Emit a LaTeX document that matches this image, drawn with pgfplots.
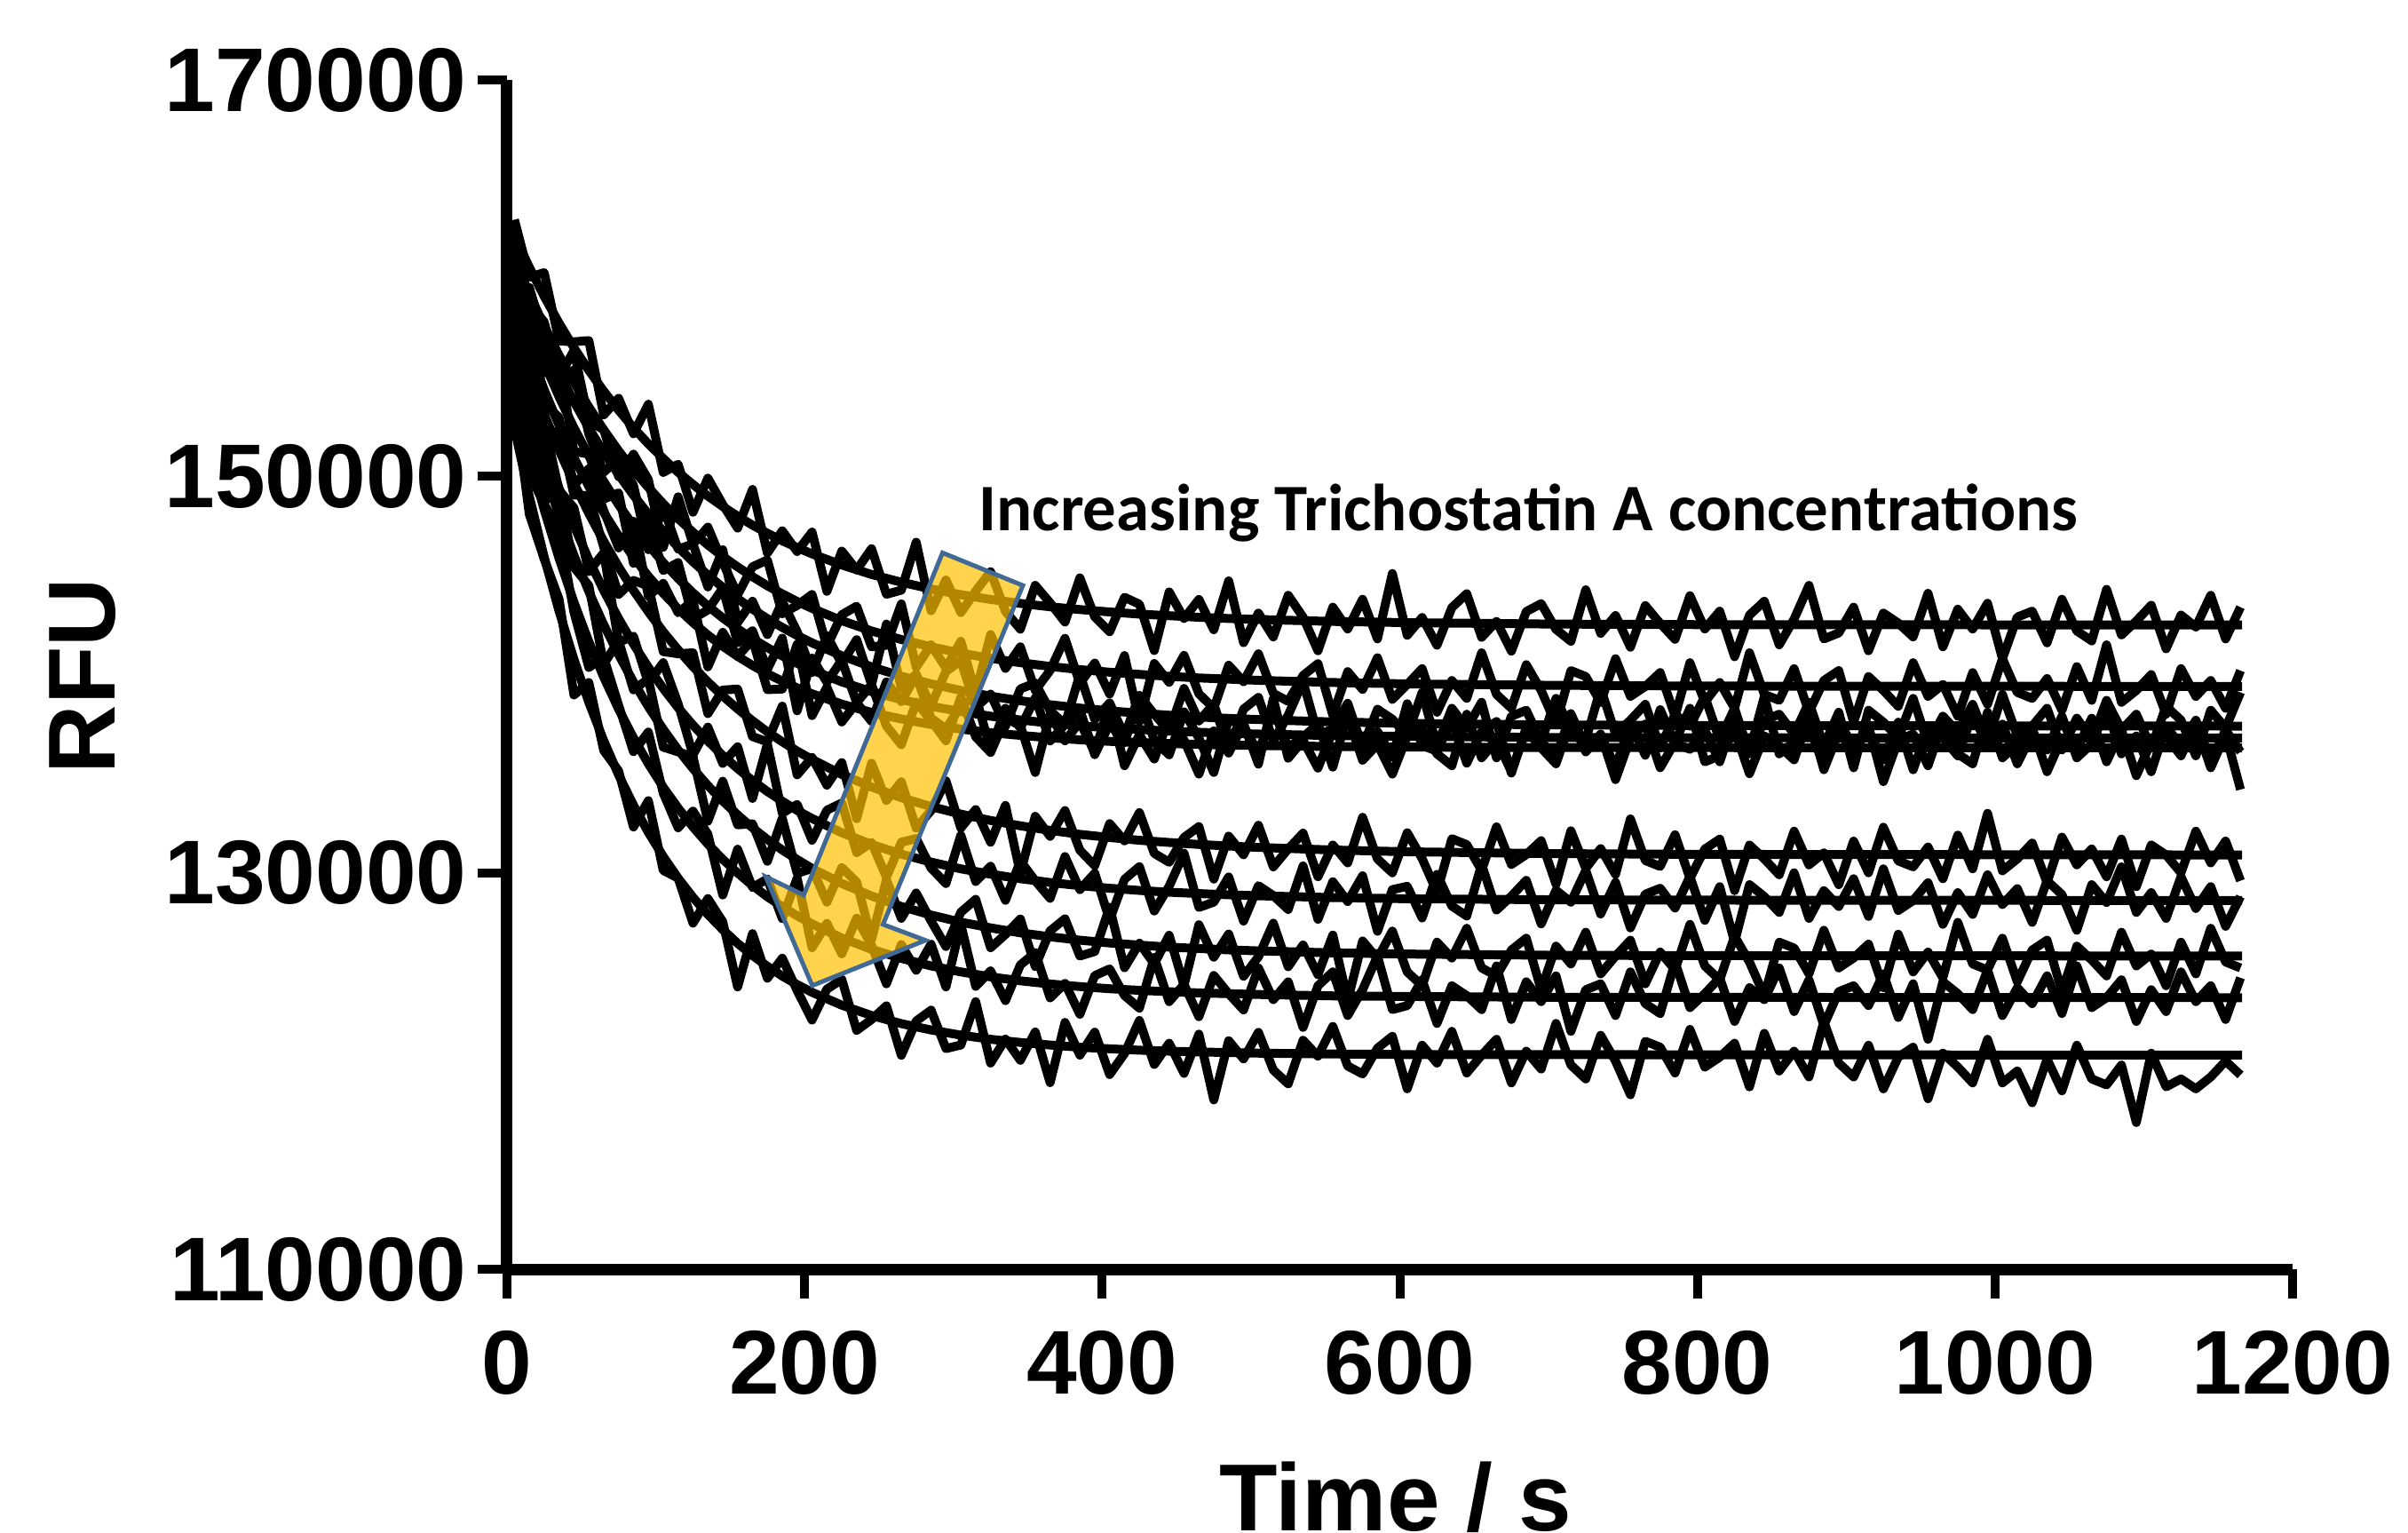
\documentclass[border=0pt]{standalone}
\usepackage{fontspec}
\setmainfont{Liberation Sans}
\newfontfamily\carlito{Carlito}
\usepackage{pgfplots}
\pgfplotsset{compat=1.18}
\definecolor{arrowfill}{RGB}{255,192,0}
\definecolor{arrowedge}{RGB}{65,105,150}
\begin{document}
\begin{tikzpicture}
\begin{axis}[
  at={(57.1mm,29.6mm)}, anchor=south west,
  width=201.1mm, height=133.9mm, scale only axis,
  xmin=0, xmax=1200, ymin=110000, ymax=170000,
  axis x line*=bottom, axis y line*=left,
  xtick={0,200,...,1200}, ytick={110000,130000,150000,170000},
  xticklabels={0,200,400,600,800,1000,1200},
  yticklabels={110000,130000,150000,170000},
  tick align=outside, major tick length=3.3mm,
  tick style={black, line width=1mm},
  axis line style={line width=1.3mm, -},
  tick label style={font=\fontsize{29}{30}\selectfont\bfseries},
  xticklabel style={yshift=-2.4mm},
  scaled ticks=false,
  clip=false,
  every axis plot post/.append style={black, solid, line width=1mm, line join=round, mark=none},
]
% fitted curves
\addplot coordinates {(0,163000)(5,162150)(15,160550)(25,159080)(35,157730)(45,156490)(55,155350)(65,154300)(75,153340)(85,152450)(95,151640)(105,150900)(115,150210)(125,149590)(135,149010)(145,148480)(155,147990)(165,147540)(175,147130)(185,146750)(195,146410)(205,146090)(225,145530)(245,145050)(265,144660)(285,144320)(305,144030)(325,143790)(345,143590)(365,143420)(385,143280)(405,143160)(425,143050)(445,142970)(465,142890)(485,142830)(505,142780)(555,142680)(605,142620)(700,142550)(800,142520)(1166,142500)};
\addplot coordinates {(0,161900)(5,160960)(15,159210)(25,157590)(35,156110)(45,154750)(55,153500)(65,152350)(75,151290)(85,150320)(95,149440)(105,148620)(115,147870)(125,147180)(135,146540)(145,145960)(155,145430)(165,144940)(175,144480)(185,144070)(195,143690)(205,143340)(225,142720)(245,142200)(265,141770)(285,141400)(305,141080)(325,140820)(345,140600)(365,140410)(385,140250)(405,140120)(425,140010)(445,139910)(465,139830)(485,139770)(505,139710)(555,139600)(605,139530)(700,139460)(800,139420)(1166,139400)};
\addplot coordinates {(0,161400)(5,160400)(15,158530)(25,156810)(35,155230)(45,153770)(55,152440)(65,151210)(75,150090)(85,149050)(95,148100)(105,147230)(115,146430)(125,145690)(135,145020)(145,144400)(155,143830)(165,143300)(175,142820)(185,142380)(195,141970)(205,141600)(225,140950)(245,140390)(265,139920)(285,139530)(305,139200)(325,138910)(345,138680)(365,138480)(385,138310)(405,138170)(425,138050)(445,137950)(465,137860)(485,137790)(505,137730)(555,137610)(605,137540)(700,137460)(800,137430)(1166,137400)};
\addplot coordinates {(0,160800)(5,159690)(15,157610)(25,155730)(35,154010)(45,152450)(55,151030)(65,149750)(75,148570)(85,147510)(95,146540)(105,145650)(115,144850)(125,144120)(135,143460)(145,142860)(155,142310)(165,141810)(175,141360)(185,140940)(195,140570)(205,140230)(225,139630)(245,139140)(265,138740)(285,138400)(305,138130)(325,137900)(345,137710)(365,137550)(385,137420)(405,137310)(425,137230)(445,137150)(465,137090)(485,137040)(505,137000)(555,136920)(605,136880)(700,136830)(800,136810)(1166,136800)};
\addplot coordinates {(0,159800)(5,158600)(15,156380)(25,154370)(35,152570)(45,150950)(55,149490)(65,148180)(75,146990)(85,145930)(95,144960)(105,144100)(115,143320)(125,142620)(135,141990)(145,141430)(155,140920)(165,140460)(175,140040)(185,139670)(195,139330)(205,139030)(225,138510)(245,138090)(265,137760)(285,137480)(305,137250)(325,137070)(345,136930)(365,136810)(385,136710)(405,136630)(425,136570)(445,136520)(465,136480)(485,136440)(505,136420)(555,136370)(605,136340)(700,136320)(1166,136300)};
\addplot coordinates {(0,158400)(5,157260)(15,155110)(25,153140)(35,151320)(45,149660)(55,148130)(65,146730)(75,145440)(85,144250)(95,143170)(105,142160)(115,141250)(125,140400)(135,139630)(145,138920)(155,138270)(165,137670)(175,137110)(185,136610)(195,136140)(205,135720)(225,134960)(245,134330)(265,133790)(285,133340)(305,132960)(325,132640)(345,132370)(365,132140)(385,131940)(405,131780)(425,131640)(445,131530)(465,131430)(485,131350)(505,131280)(555,131150)(605,131060)(700,130970)(800,130930)(1166,130900)};
\addplot coordinates {(0,157600)(5,156250)(15,153750)(25,151470)(35,149400)(45,147510)(55,145800)(65,144240)(75,142830)(85,141540)(95,140370)(105,139300)(115,138330)(125,137450)(135,136650)(145,135920)(155,135260)(165,134650)(175,134100)(185,133610)(195,133150)(205,132740)(225,132020)(245,131430)(265,130940)(285,130540)(305,130200)(325,129930)(345,129700)(365,129510)(385,129350)(405,129220)(425,129110)(445,129020)(465,128950)(485,128890)(505,128840)(555,128750)(605,128690)(700,128640)(800,128620)(1166,128600)};
\addplot coordinates {(0,156800)(5,155360)(15,152680)(25,150250)(35,148030)(45,146020)(55,144190)(65,142520)(75,141010)(85,139630)(95,138380)(105,137240)(115,136200)(125,135260)(135,134400)(145,133620)(155,132920)(165,132270)(175,131680)(185,131150)(195,130670)(205,130220)(225,129460)(245,128830)(265,128300)(285,127870)(305,127510)(325,127220)(345,126970)(365,126770)(385,126600)(405,126460)(425,126350)(445,126250)(465,126180)(485,126110)(505,126060)(555,125960)(605,125900)(700,125840)(800,125820)(1166,125800)};
\addplot coordinates {(0,155700)(5,154070)(15,151040)(25,148310)(35,145860)(45,143650)(55,141660)(65,139870)(75,138260)(85,136810)(95,135500)(105,134320)(115,133270)(125,132310)(135,131450)(145,130680)(155,129990)(165,129360)(175,128790)(185,128290)(195,127830)(205,127420)(225,126710)(245,126140)(265,125680)(285,125300)(305,125000)(325,124750)(345,124550)(365,124390)(385,124260)(405,124150)(425,124070)(445,124000)(465,123940)(485,123900)(505,123860)(555,123790)(605,123760)(700,123720)(1166,123700)};
\addplot coordinates {(0,154300)(5,152430)(15,148990)(25,145930)(35,143200)(45,140770)(55,138600)(65,136670)(75,134940)(85,133410)(95,132040)(105,130820)(115,129730)(125,128760)(135,127900)(145,127130)(155,126440)(165,125830)(175,125280)(185,124790)(195,124360)(205,123970)(225,123320)(245,122800)(265,122390)(285,122070)(305,121810)(325,121600)(345,121440)(365,121310)(385,121200)(405,121120)(425,121050)(445,121000)(465,120960)(485,120930)(505,120900)(555,120860)(605,120830)(1166,120800)};
% measured traces
\addplot coordinates {(5,162950)(15,160050)(25,160280)(35,156830)(45,156790)(55,156850)(65,153100)(75,153940)(85,152150)(95,153640)(105,150200)(115,150610)(125,148190)(135,149910)(145,148580)(155,147390)(165,149340)(175,146130)(185,147250)(195,146210)(205,147190)(215,144200)(225,146230)(235,145280)(245,146350)(255,144050)(265,144260)(275,146680)(285,143220)(295,144770)(305,143130)(315,144210)(325,145190)(335,143190)(345,142290)(355,144500)(365,143620)(375,142650)(385,144880)(395,142910)(405,142160)(415,143900)(425,143550)(435,141210)(445,144170)(455,142830)(465,143790)(475,142260)(485,144730)(495,141610)(505,143100)(515,141900)(525,144000)(535,142900)(545,141200)(555,143400)(565,142300)(575,143800)(585,141800)(595,145100)(605,141980)(615,142880)(625,141480)(635,143380)(645,144080)(655,141880)(665,142680)(675,141180)(685,143180)(695,143580)(705,142280)(715,141680)(725,144280)(735,142080)(745,142980)(755,141380)(765,143480)(775,142580)(785,141780)(795,143980)(805,142300)(815,143200)(825,140900)(835,143000)(845,143700)(855,141500)(865,142800)(875,144500)(885,141800)(895,142100)(905,143400)(915,141200)(925,143100)(935,142600)(945,141900)(955,144100)(965,141400)(975,143300)(985,142300)(995,143600)(1005,140800)(1015,142900)(1025,143200)(1035,141600)(1045,143800)(1055,142200)(1065,141700)(1075,144300)(1085,142000)(1095,142700)(1105,143500)(1115,141300)(1125,143000)(1135,142400)(1145,144000)(1155,141800)(1165,143400)};
\addplot coordinates {(5,161960)(15,158710)(25,157790)(35,155010)(45,156350)(55,152800)(65,152350)(75,149990)(85,151120)(95,149840)(105,146420)(115,148970)(125,146580)(135,147440)(145,145660)(155,144030)(165,145440)(175,145780)(185,143070)(195,143490)(205,144040)(215,141420)(225,143020)(235,143450)(245,141400)(255,141480)(265,143570)(275,140370)(285,141500)(295,140330)(305,141680)(315,139050)(325,142020)(335,140310)(345,141400)(355,139200)(365,140210)(375,141830)(385,139550)(395,140580)(405,139020)(415,140960)(425,137610)(435,140560)(445,139610)(455,140970)(465,139030)(475,138300)(485,140470)(495,139640)(505,141050)(515,139050)(525,138650)(535,139950)(545,140550)(555,137950)(565,140150)(575,139250)(585,140850)(595,138750)(605,139500)(615,140300)(625,138100)(635,139700)(645,138800)(655,141100)(665,139000)(675,138300)(685,140500)(695,139200)(705,137500)(715,140200)(725,139900)(735,138600)(745,140800)(755,138900)(765,139400)(775,140100)(785,137900)(795,140600)(805,138600)(815,139600)(825,138300)(835,141100)(845,139000)(855,138700)(865,140300)(875,138100)(885,139700)(895,140200)(905,137600)(915,139900)(925,139200)(935,138400)(945,140600)(955,138900)(965,139500)(975,137900)(985,140100)(995,138500)(1005,140800)(1015,139100)(1025,138800)(1035,139800)(1045,138200)(1055,140400)(1065,138700)(1075,141500)(1085,138600)(1095,139200)(1105,140000)(1115,138000)(1125,140300)(1135,138900)(1145,139700)(1155,138300)(1165,140200)};
\addplot coordinates {(5,159100)(15,159530)(25,157010)(35,154530)(45,155370)(55,152140)(65,150210)(75,150890)(85,149550)(95,146300)(105,148430)(115,146330)(125,146590)(135,144420)(145,146300)(155,142630)(165,143700)(175,142020)(185,143680)(195,142170)(205,140100)(215,141960)(225,140550)(235,141760)(245,139490)(255,142550)(265,139320)(275,140020)(285,138430)(295,140160)(305,140700)(315,138350)(325,139010)(335,137390)(345,139280)(355,139570)(365,138180)(375,137490)(385,140010)(395,137740)(405,138570)(415,136910)(425,138950)(435,138000)(445,137150)(455,139300)(465,137660)(475,138520)(485,136190)(495,138260)(505,138850)(515,136650)(525,137950)(535,139650)(545,136950)(555,137250)(565,138550)(575,136350)(585,138250)(595,137750)(605,136900)(615,139100)(625,136400)(635,138300)(645,137300)(655,138600)(665,135800)(675,137900)(685,138200)(695,136600)(705,138800)(715,137200)(725,136700)(735,139300)(745,137000)(755,137700)(765,138500)(775,136300)(785,138000)(795,137400)(805,138900)(815,136700)(825,138300)(835,136000)(845,137700)(855,138000)(865,137000)(875,138600)(885,136400)(895,138100)(905,135300)(915,138200)(925,137600)(935,136800)(945,138800)(955,136500)(965,137900)(975,137100)(985,138500)(995,136600)(1005,139000)(1015,136900)(1025,137400)(1035,138300)(1045,136200)(1055,137800)(1065,136700)(1075,138700)(1085,137200)(1095,138000)(1105,136300)(1115,138400)(1125,137700)(1135,135900)(1145,138200)(1155,137300)(1165,139100)};
\addplot coordinates {(5,160690)(15,156810)(25,155230)(35,155810)(45,151250)(55,151130)(65,148850)(75,149170)(85,145610)(95,147740)(105,145250)(115,145650)(125,142820)(135,143260)(145,144360)(155,141610)(165,142210)(175,140260)(185,141840)(195,138170)(205,140830)(215,139620)(225,140730)(235,138580)(245,137640)(255,139630)(265,138640)(275,139960)(285,137800)(295,137260)(305,138430)(315,138900)(325,136200)(335,138300)(345,137310)(355,138830)(365,136650)(375,137480)(385,138220)(395,135960)(405,137510)(415,136570)(425,138830)(435,136690)(445,135950)(455,138120)(465,136790)(475,135060)(485,137740)(495,137420)(505,136030)(515,138230)(525,136330)(535,136830)(545,137530)(555,135330)(565,138030)(575,136130)(585,137130)(595,135830)(605,138530)(615,136430)(625,136130)(635,137730)(645,135530)(655,137130)(665,137630)(675,135030)(685,137330)(695,136630)(705,135830)(715,138030)(725,136330)(735,136930)(745,135330)(755,137530)(765,135930)(775,138230)(785,136530)(795,136230)(805,137200)(815,135600)(825,137800)(835,136100)(845,138900)(855,136000)(865,136600)(875,137400)(885,135400)(895,137700)(905,136300)(915,137100)(925,135700)(935,137600)(945,135200)(955,137300)(965,136800)(975,135900)(985,138000)(995,136400)(1005,137500)(1015,135500)(1025,137000)(1035,136200)(1045,137900)(1055,135800)(1065,136500)(1075,138300)(1085,136000)(1095,136900)(1105,135100)(1115,137400)(1125,136400)(1135,137700)(1145,135600)(1155,137200)(1165,136100)};
\addplot coordinates {(5,158300)(15,158380)(25,153670)(35,152970)(45,149550)(55,150390)(65,148280)(75,146390)(85,147730)(95,143960)(105,144600)(115,143120)(125,143720)(135,140390)(145,142130)(155,140920)(165,141760)(175,139240)(185,139270)(195,141530)(205,137930)(215,139360)(225,137610)(235,138590)(245,139490)(255,137410)(265,136460)(275,138610)(285,137680)(295,136660)(305,138850)(315,136860)(325,136070)(335,137800)(345,137430)(355,135060)(365,138010)(375,136660)(385,137610)(395,136070)(405,138530)(415,135400)(425,136970)(435,135740)(445,137820)(455,136700)(465,134980)(475,137160)(485,136040)(495,137530)(505,135480)(515,138780)(525,135780)(535,136680)(545,135280)(555,137180)(565,137880)(575,135680)(585,136480)(595,134980)(605,136900)(615,137300)(625,136000)(635,135400)(645,138000)(655,135800)(665,136700)(675,135100)(685,137200)(695,136300)(705,135500)(715,137700)(725,136100)(735,137000)(745,134700)(755,136800)(765,137500)(775,135300)(785,136600)(795,138300)(805,135600)(815,135900)(825,137200)(835,135000)(845,136900)(855,136400)(865,135700)(875,137900)(885,135200)(895,137100)(905,136100)(915,137400)(925,134600)(935,136700)(945,137000)(955,135400)(965,137600)(975,136000)(985,135500)(995,138100)(1005,135800)(1015,136500)(1025,137300)(1035,135100)(1045,136800)(1055,136200)(1065,137800)(1075,135600)(1085,137200)(1095,134900)(1105,136600)(1115,136900)(1125,135900)(1135,137500)(1145,135300)(1155,137000)(1165,134200)};
\addplot coordinates {(5,158060)(15,155510)(25,150940)(35,152420)(45,149060)(55,149030)(65,146430)(75,144040)(85,144750)(95,144470)(105,141160)(115,141050)(125,141100)(135,138030)(145,139220)(155,139270)(165,136870)(175,136610)(185,138410)(195,134940)(205,135820)(215,134420)(225,135560)(235,132730)(245,135530)(255,133650)(265,134590)(275,132260)(285,133140)(295,134640)(305,132260)(315,133190)(325,131540)(335,133400)(345,129970)(355,132850)(365,131840)(375,133140)(385,131140)(395,130360)(405,132480)(415,131610)(425,133040)(435,130980)(445,130530)(455,131780)(465,132330)(475,129680)(485,131850)(495,130910)(505,132400)(515,130300)(525,131200)(535,132000)(545,129800)(555,131400)(565,130500)(575,132800)(585,130700)(595,130000)(605,132020)(615,130720)(625,129020)(635,131720)(645,131420)(655,130120)(665,132320)(675,130420)(685,130920)(695,131620)(705,129420)(715,132120)(725,130220)(735,131220)(745,129920)(755,132720)(765,130620)(775,130320)(785,131920)(795,129720)(805,131200)(815,131700)(825,129100)(835,131400)(845,130700)(855,129900)(865,132100)(875,130400)(885,131000)(895,129400)(905,131600)(915,130000)(925,132300)(935,130600)(945,130300)(955,131300)(965,129700)(975,131900)(985,130200)(995,133000)(1005,130100)(1015,130700)(1025,131500)(1035,129500)(1045,131800)(1055,130400)(1065,131200)(1075,129800)(1085,131700)(1095,129300)(1105,131400)(1115,130900)(1125,130000)(1135,132100)(1145,130500)(1155,131600)(1165,129600)};
\addplot coordinates {(5,156750)(15,151950)(25,152670)(35,149300)(45,148410)(55,145200)(65,146140)(75,141630)(85,141940)(95,139570)(105,140600)(115,138530)(125,135950)(135,137350)(145,135520)(155,136360)(165,133750)(175,136500)(185,133010)(195,133450)(205,131640)(215,133160)(225,133520)(235,131020)(245,131530)(255,129780)(265,131540)(275,131730)(285,130240)(295,129460)(305,131900)(315,129560)(325,130330)(335,128610)(345,130600)(355,129600)(365,128710)(375,130820)(385,129150)(395,129980)(405,127620)(415,129670)(425,130310)(435,128070)(445,129320)(455,130990)(465,128250)(475,128520)(485,129790)(495,127560)(505,129350)(515,128850)(525,128150)(535,130350)(545,127650)(555,129550)(565,128550)(575,129850)(585,127050)(595,129150)(605,129320)(615,127720)(625,129920)(635,128320)(645,127820)(655,130420)(665,128120)(675,128820)(685,129620)(695,127420)(705,129120)(715,128520)(725,130120)(735,127920)(745,129520)(755,127220)(765,128920)(775,129220)(785,128220)(795,129820)(805,127600)(815,129300)(825,126500)(835,129400)(845,128800)(855,128000)(865,130000)(875,127700)(885,129100)(895,128300)(905,129700)(915,127800)(925,130200)(935,128100)(945,128600)(955,129500)(965,127400)(975,129000)(985,127900)(995,129900)(1005,128400)(1015,129200)(1025,127500)(1035,129600)(1045,128900)(1055,127100)(1065,129400)(1075,128500)(1085,130300)(1095,128000)(1105,129000)(1115,127700)(1125,129800)(1135,128200)(1145,129300)(1155,127300)(1165,128800)};
\addplot coordinates {(5,156260)(15,152380)(25,148750)(35,149230)(45,145420)(55,144490)(65,140520)(75,141710)(85,139230)(95,139780)(105,136340)(115,136100)(125,135860)(135,132600)(145,134620)(155,132420)(165,132470)(175,130580)(185,132750)(195,129970)(205,130220)(215,128520)(225,130260)(235,129530)(245,126630)(255,129650)(265,127700)(275,128980)(285,127570)(295,126280)(305,128010)(315,128660)(325,126220)(335,126890)(345,127670)(355,125270)(365,127070)(375,127680)(385,125800)(395,126030)(405,128260)(415,125210)(425,126450)(435,125400)(445,126850)(455,124310)(465,127380)(475,125740)(485,126910)(495,124780)(505,125760)(515,127460)(525,125260)(535,126360)(545,124860)(555,126860)(565,123560)(575,126560)(585,125660)(595,127060)(605,125000)(615,124300)(625,126500)(635,125700)(645,127200)(655,125200)(665,124800)(675,126100)(685,126700)(695,124100)(705,126300)(715,125400)(725,127000)(735,124900)(745,125800)(755,126600)(765,124400)(775,126000)(785,125100)(795,127400)(805,125300)(815,124600)(825,126800)(835,125500)(845,123800)(855,126500)(865,126200)(875,124900)(885,127100)(895,125200)(905,125700)(915,126400)(925,124200)(935,126900)(945,125000)(955,126000)(965,124700)(975,127500)(985,125400)(995,125100)(1005,126700)(1015,124500)(1025,126100)(1035,126600)(1045,124000)(1055,126300)(1065,125600)(1075,124800)(1085,127000)(1095,125300)(1105,125900)(1115,124300)(1125,126500)(1135,124900)(1145,127200)(1155,125500)(1165,125200)};
\addplot coordinates {(5,154670)(15,150140)(25,148610)(35,147260)(45,143150)(55,140360)(65,140870)(75,138460)(85,136110)(95,137100)(105,134020)(115,132270)(125,133110)(135,131950)(145,128880)(155,131190)(165,129260)(175,129690)(185,127690)(195,129730)(205,126220)(215,127450)(225,125910)(235,127710)(245,126340)(255,124400)(265,126380)(275,125080)(285,126400)(295,124240)(305,127400)(315,124270)(325,125050)(335,123550)(345,125350)(355,125970)(365,123690)(375,124420)(385,122860)(395,124810)(405,125150)(415,123810)(425,123170)(435,125730)(445,123500)(455,124370)(465,122740)(475,124820)(485,123900)(495,123080)(505,125200)(515,123600)(525,124500)(535,122200)(545,124300)(555,125000)(565,122800)(575,124100)(585,125800)(595,123100)(605,123300)(615,124600)(625,122400)(635,124300)(645,123800)(655,123100)(665,125300)(675,122600)(685,124500)(695,123500)(705,124800)(715,122000)(725,124100)(735,124400)(745,122800)(755,125000)(765,123400)(775,122900)(785,125500)(795,123200)(805,123900)(815,124700)(825,122500)(835,124200)(845,123600)(855,125200)(865,123000)(875,124600)(885,122300)(895,124000)(905,124300)(915,123300)(925,124900)(935,122700)(945,124400)(955,121600)(965,124500)(975,123900)(985,123100)(995,125100)(1005,122800)(1015,124200)(1025,123400)(1035,124800)(1045,122900)(1055,125300)(1065,123200)(1075,123700)(1085,124600)(1095,122500)(1105,124100)(1115,123000)(1125,125000)(1135,123500)(1145,124300)(1155,122600)(1165,124700)};
\addplot coordinates {(5,153830)(15,148090)(25,145830)(35,143800)(45,138970)(55,139600)(65,136170)(75,135140)(85,132310)(95,133640)(105,130120)(115,129730)(125,127460)(135,128700)(145,127530)(155,124240)(165,126930)(175,124680)(185,125690)(195,124060)(205,122570)(215,124130)(225,124620)(235,122050)(245,122600)(255,123290)(265,120790)(275,122520)(285,123070)(295,121130)(305,121310)(315,123500)(325,120400)(335,121610)(345,120540)(355,121970)(365,119410)(375,122450)(385,120800)(395,121960)(405,119820)(415,120880)(425,122550)(435,120330)(445,121400)(455,119880)(465,121860)(475,118540)(485,121530)(495,120610)(505,121950)(515,120050)(525,119350)(535,121550)(545,120750)(555,122250)(565,120250)(575,119850)(585,121150)(595,121750)(605,119100)(615,121300)(625,120400)(635,122000)(645,119900)(655,120800)(665,121600)(675,119400)(685,121000)(695,120100)(705,122400)(715,120300)(725,119600)(735,121800)(745,120500)(755,118800)(765,121500)(775,121200)(785,119900)(795,122100)(805,120200)(815,120700)(825,121400)(835,119200)(845,121900)(855,120000)(865,121000)(875,119700)(885,122500)(895,120400)(905,119700)(915,121300)(925,119100)(935,120700)(945,121200)(955,118600)(965,120900)(975,120200)(985,119400)(995,121600)(1005,119400)(1015,120000)(1025,118400)(1035,120600)(1045,119000)(1055,121300)(1065,119600)(1075,119300)(1085,120300)(1095,117400)(1105,120900)(1115,119200)(1125,119600)(1135,119100)(1145,119700)(1155,120500)(1165,119800)};
\end{axis}
% arrow annotation
\draw[fill=arrowfill, fill opacity=0.7, draw=arrowedge, line width=0.5mm, line join=miter]
  (106.15mm,110.26mm) -- (115.2mm,106.58mm) -- (99.45mm,68.42mm) -- (104.23mm,66.63mm)
  -- (91.48mm,61.53mm) -- (86.25mm,73.78mm) -- (90.52mm,71.73mm) -- cycle;
\node[anchor=base west, inner sep=0pt, font=\carlito\bfseries\fontsize{21.3}{23}\selectfont]
  at (110.2mm,112.7mm) {Increasing Trichostatin A concentrations};
\node[anchor=base, inner sep=0pt, font=\fontsize{30.5}{32}\selectfont\bfseries]
  at (157.2mm,0.2mm) {Time / s};
\node[rotate=90, anchor=base, inner sep=0pt, font=\fontsize{30.5}{32}\selectfont\bfseries]
  at (13.0mm,96.4mm) {RFU};
\pgfresetboundingbox
\useasboundingbox (0,0) rectangle (271.2mm,172.5mm);
\end{tikzpicture}
\end{document}
